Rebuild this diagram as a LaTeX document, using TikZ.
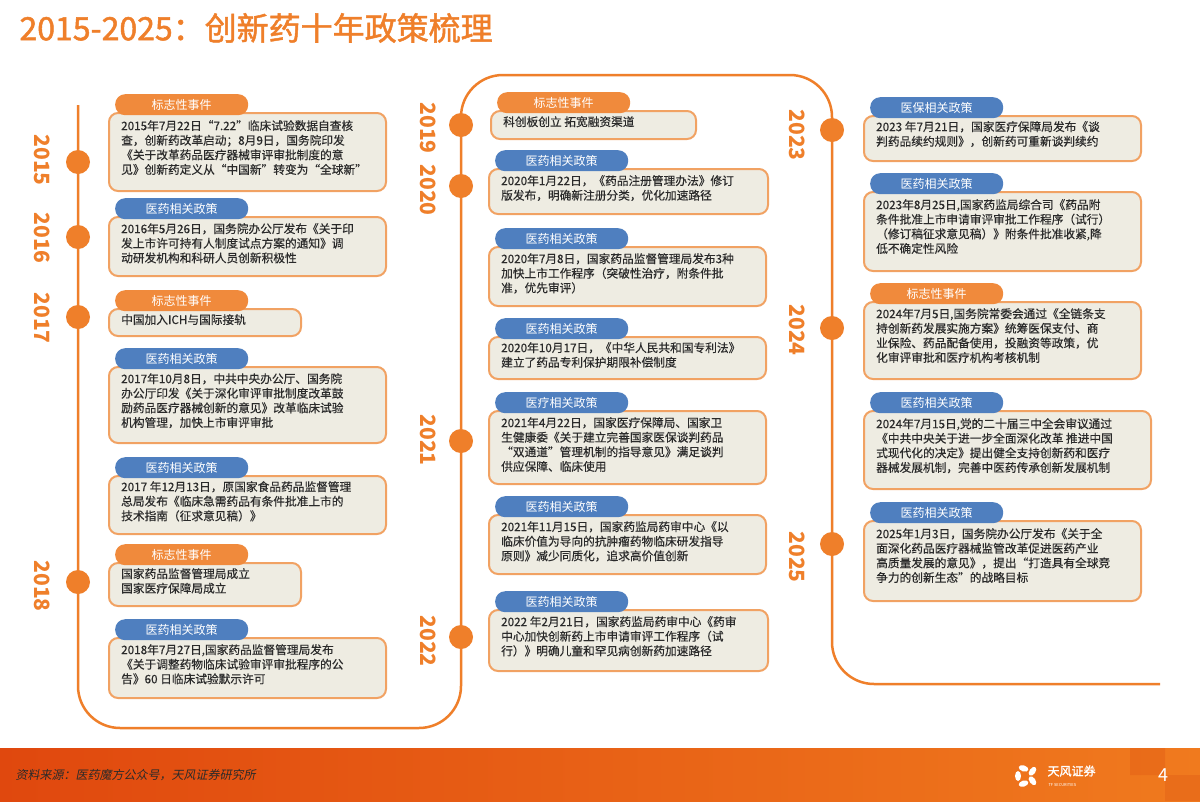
\documentclass[tikz,border=0pt]{standalone}
\usepackage{fontspec}
\setmainfont{Noto Sans CJK SC}
\newfontfamily\cjkb[FakeBold=1.5]{Noto Sans CJK SC}
\newfontfamily\cjkm[FakeBold=0.4]{Noto Sans CJK SC}
\newfontfamily\cjki[FakeSlant=0.2]{Noto Sans CJK SC}
\usetikzlibrary{shadings,shapes.geometric,calc}
\definecolor{tforange}{HTML}{EF7F2A}
\definecolor{tabor}{HTML}{F08A3C}
\definecolor{tabbl}{HTML}{4F7FBF}
\definecolor{boxfill}{HTML}{EEECE2}
\definecolor{boxline}{HTML}{F1A263}
\definecolor{txt}{HTML}{2A2A2A}
\definecolor{barl}{HTML}{E0480E}
\definecolor{barr}{HTML}{F07A1E}
\definecolor{bard}{HTML}{D84A10}
\begin{document}
\begin{tikzpicture}[x=1pt,y=-1pt,
  boxst/.style={draw=boxline,line width=2pt,fill=boxfill,rounded corners=9pt,anchor=north west,inner sep=0pt},
  tabst/.style={rounded corners=10pt,anchor=north west,minimum height=21pt,minimum width=133pt,inner sep=0pt,text=white,font=\fontsize{12}{13}\selectfont},
  bodyst/.style={anchor=north west,align=left,inner sep=0pt,text=txt,font=\fontsize{11.7}{14.6}\selectfont\cjkm},
  yearst/.style={rotate=-90,text=tforange,font=\fontsize{21}{21}\selectfont\bfseries},
  dotst/.style={circle,fill=tforange,minimum size=24pt,inner sep=0pt},
  petal/.style={fill=white,ellipse,minimum width=10pt,minimum height=6pt,inner sep=0pt}]
\useasboundingbox (0,0) rectangle (1200,801);
\fill[white] (0,0) rectangle (1200,801);
% title
\node[anchor=west,text=tforange,font=\fontsize{32}{34}\selectfont\cjkb] (title) at (16,28) {2015-2025：创新药十年政策梳理};
% timeline
\draw[tforange,line width=2.5pt,rounded corners=42pt] (78,105) -- (78,728) -- (461,728) -- (461,75) -- (832,75) -- (832,684) -- (1160,684);
% dots
\foreach \n/\x/\y in {a/78/162,b/78/237,c/78/317,d/78/582,e/461/125,f/461/186,g/461/441,h/461/637,i/832/130,j/832/328,k/832/544}
  \node[dotst] (dot\n) at (\x,\y) {};
% years
\foreach \n/\x/\y/\t in {a/42/160/2015,b/42/238/2016,c/42/318/2017,d/42/586/2018,e/428/128/2019,f/428/190/2020,g/428/440/2021,h/428/641/2022,i/797/135/2023,j/797/330/2024,k/797/557/2025}
  \node[yearst] (yr\n) at (\x,\y) {\t};
% macro for entries
\newcommand\entry[9]{%
  \node[boxst,minimum width=#4-#2,minimum height=#5-#3] (box#1) at (#2,#3) {};
  \node[tabst,fill=#6] (tab#1) at (#2+7,#3-18) {#7};
  \node[bodyst] (txt#1) at (#2+13,#3+#9) {#8};}
% left column
\entry{L1}{108}{112}{385}{190}{tabor}{标志性事件}{2015年7月22日“7.22”临床试验数据自查核\\查，创新药改革启动；8月9日，国务院印发\\《关于改革药品医疗器械审评审批制度的意\\见》创新药定义从“中国新”转变为“全球新”}{8}
\entry{L2}{108}{216}{385}{275}{tabbl}{医药相关政策}{2016年5月26日，国务院办公厅发布《关于印\\发上市许可持有人制度试点方案的通知》调\\动研发机构和科研人员创新积极性}{7}
\entry{L3}{108}{308}{300}{335}{tabor}{标志性事件}{中国加入ICH与国际接轨}{6}
\entry{L4}{108}{366}{385}{442}{tabbl}{医药相关政策}{2017年10月8日，中共中央办公厅、国务院\\办公厅印发《关于深化审评审批制度改革鼓\\励药品医疗器械创新的意见》改革临床试验\\机构管理，加快上市审评审批}{7}
\entry{L5}{108}{475}{385}{533}{tabbl}{医药相关政策}{2017 年12月13日，原国家食品药品监督管理\\总局发布《临床急需药品有条件批准上市的\\技术指南（征求意见稿）》}{6}
\entry{L6}{108}{562}{300}{605}{tabor}{标志性事件}{国家药品监督管理局成立\\国家医疗保障局成立}{6}
\entry{L7}{108}{637}{385}{697}{tabbl}{医药相关政策}{2018年7月27日,国家药品监督管理局发布\\《关于调整药物临床试验审评审批程序的公\\告》60 日临床试验默示许可}{7}
% middle column
\entry{M1}{490}{110}{695}{138}{tabor}{标志性事件}{科创板创立 拓宽融资渠道}{6}
\entry{M2}{488}{168}{767}{213}{tabbl}{医药相关政策}{2020年1月22日，《药品注册管理办法》修订\\版发布，明确新注册分类，优化加速路径}{7}
\entry{M3}{488}{246}{765}{305}{tabbl}{医药相关政策}{2020年7月8日，国家药品监督管理局发布3种\\加快上市工作程序（突破性治疗，附条件批\\准，优先审评）}{7}
\entry{M4}{488}{336}{765}{378}{tabbl}{医药相关政策}{2020年10月17日，《中华人民共和国专利法》\\建立了药品专利保护期限补偿制度}{6}
\entry{M5}{488}{410}{765}{483}{tabbl}{医疗相关政策}{2021年4月22日，国家医疗保障局、国家卫\\生健康委《关于建立完善国家医保谈判药品\\“双通道”管理机制的指导意见》满足谈判\\供应保障、临床使用}{7}
\entry{M6}{488}{514}{765}{573}{tabbl}{医药相关政策}{2021年11月15日，国家药监局药审中心《以\\临床价值为导向的抗肿瘤药物临床研发指导\\原则》减少同质化，追求高价值创新}{7}
\entry{M7}{488}{609}{767}{670}{tabbl}{医药相关政策}{2022 年2月21日，国家药监局药审中心《药审\\中心加快创新药上市申请审评工作程序（试\\行）》明确儿童和罕见病创新药加速路径}{7}
% right column
\entry{R1}{863}{115}{1140}{160}{tabbl}{医保相关政策}{2023 年7月21日，国家医疗保障局发布《谈\\判药品续约规则》，创新药可重新谈判续约}{6}
\entry{R2}{863}{191}{1140}{270}{tabbl}{医药相关政策}{2023年8月25日,国家药监局综合司《药品附\\条件批准上市申请审评审批工作程序（试行）\\（修订稿征求意见稿）》附条件批准收紧,降\\低不确定性风险}{8}
\entry{R3}{863}{301}{1140}{378}{tabor}{标志性事件}{2024年7月5日,国务院常委会通过《全链条支\\持创新药发展实施方案》统筹医保支付、商\\业保险、药品配备使用，投融资等政策，优\\化审评审批和医疗机构考核机制}{7}
\entry{R4}{863}{410}{1150}{488}{tabbl}{医药相关政策}{2024年7月15日,党的二十届三中全会审议通过\\《中共中央关于进一步全面深化改革 推进中国\\式现代化的决定》提出健全支持创新药和医疗\\器械发展机制，完善中医药传承创新发展机制}{8}
\entry{R5}{863}{520}{1140}{600}{tabbl}{医药相关政策}{2025年1月3日，国务院办公厅发布《关于全\\面深化药品医疗器械监管改革促进医药产业\\高质量发展的意见》，提出“打造具有全球竞\\争力的创新生态”的战略目标}{8}
% bottom bar
\shade[left color=barl,right color=barr] (0,748) rectangle (1200,801);
\fill[bard,opacity=0.25] (1130,748) rectangle (1165,775) (1165,775) rectangle (1200,801);
\node[anchor=west,text=txt,font=\fontsize{12}{13}\selectfont\cjki] (src) at (12,775) {资料来源：医药魔方公众号，天风证券研究所};
% logo
\foreach \a in {0,72,...,288}
  \node[petal,rotate=\a+90] (p\a) at ($(1026,776)+(\a:-8)$) {};
\node[anchor=west,text=white,font=\fontsize{12}{13}\selectfont\cjkb] (logo) at (1044,771) {天风证券};
\node[anchor=west,text=white,font=\fontsize{4}{5}\selectfont] (logo2) at (1045,785) {TF SECURITIES};
\node[text=white,font=\fontsize{18}{19}\selectfont] (pg) at (1163,775) {4};
\end{tikzpicture}
\end{document}
